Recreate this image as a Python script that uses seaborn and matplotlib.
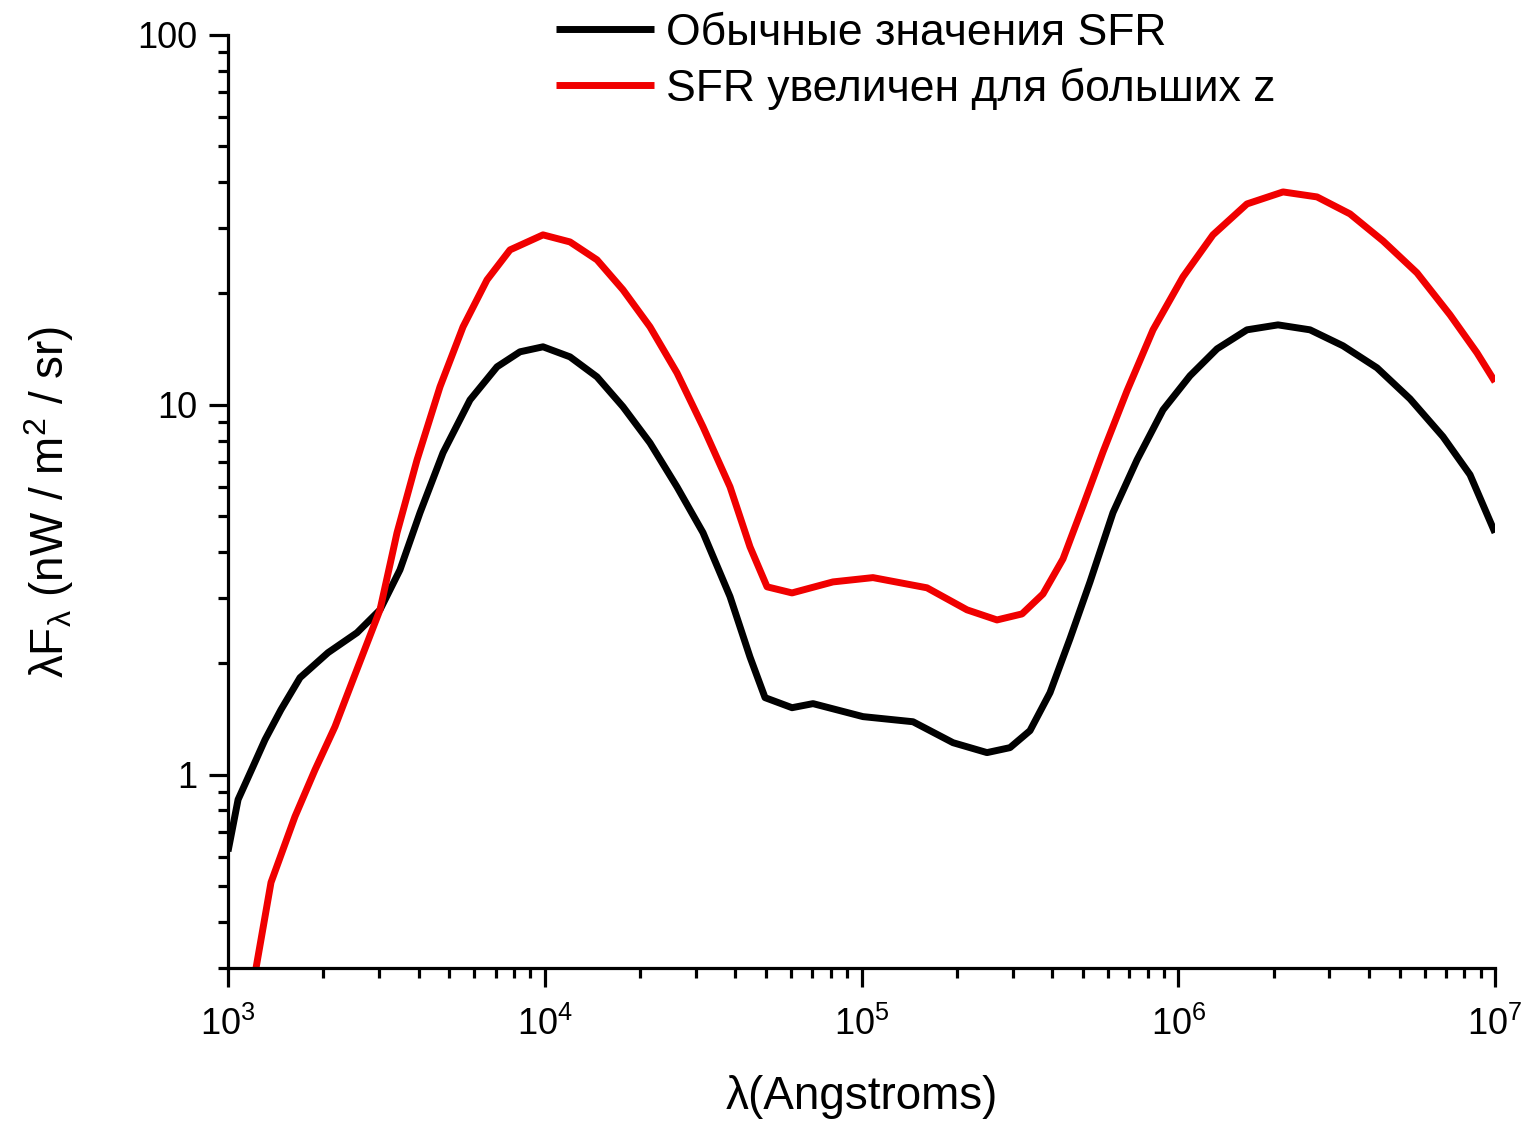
import numpy as np
import pandas as pd
import matplotlib
matplotlib.use("Agg")
import matplotlib.pyplot as plt
import matplotlib.ticker as mticker
import seaborn as sns

# ---- data ----
x_normal = [1000, 1076, 1199, 1309, 1470, 1688, 2069, 2555, 3019, 3491, 4039,
            4774, 5808, 7069, 8353, 9874, 12015, 14622, 17660, 21490, 26150,
            31600, 38450, 44460, 49600, 60350, 70300, 101100, 145400, 194500,
            249000, 294300, 340400, 393700, 455100, 526500, 622300, 741200,
            895100, 1089000, 1326000, 1648000, 2065000, 2606000, 3312000,
            4241000, 5391000, 6852000, 8340000, 10000000]
y_normal = [0.62, 0.856, 1.051, 1.243, 1.499, 1.829, 2.137, 2.42, 2.79, 3.58, 5.11,
            7.42, 10.31, 12.67, 13.91, 14.35, 13.48, 11.90, 9.88, 7.89, 6.00,
            4.51, 3.03, 2.08, 1.615, 1.517, 1.556, 1.435, 1.39, 1.22,
            1.147, 1.183, 1.315, 1.666, 2.33, 3.32, 5.11, 7.10,
            9.69, 11.98, 14.17, 15.95, 16.45, 15.95, 14.44,
            12.59, 10.38, 8.20, 6.47, 4.51]

x_high = [1226, 1367, 1627, 1882, 2177, 2481, 3019, 3417, 3952, 4670, 5521,
          6572, 7768, 9874, 12015, 14622, 17660, 21490, 26150, 31600, 38450,
          44460, 50330, 60350, 81280, 108700, 161000, 215300, 267800, 321200,
          374100, 432600, 500500, 578800, 689000, 832500, 1035000, 1287000,
          1648000, 2142000, 2742000, 3485000, 4430000, 5672000, 7211000,
          8773000, 10000000]
y_high = [0.30, 0.511, 0.770, 1.03, 1.349, 1.806, 2.79, 4.51, 7.10, 11.19, 16.25,
          21.77, 26.24, 28.81, 27.57, 24.66, 20.46, 16.25, 12.20, 8.72, 6.00,
          4.13, 3.22, 3.10, 3.32, 3.41, 3.20, 2.79, 2.62, 2.72,
          3.08, 3.83, 5.33, 7.46, 10.91, 15.95, 22.18, 28.81,
          34.93, 37.64, 36.49, 32.83, 27.75, 22.74, 17.51,
          13.82, 11.54]

label_normal = "Обычные значения SFR"
label_high = "SFR увеличен для больших z"
xlabel = "λ(Angstroms)"
ylabel = r"λF$_{\mathrm{λ}}$ (nW / m$^{2}$ / sr)"
ytick_vals = [1, 10, 100]
ytick_labels = ["1", "10", "100"]

# ---- style ----
sns.set_style("ticks")
plt.rcParams["font.family"] = ["Liberation Sans", "DejaVu Sans"]
plt.rcParams["mathtext.fontset"] = "custom"
plt.rcParams["mathtext.rm"] = "Liberation Sans"
plt.rcParams["mathtext.it"] = "Liberation Sans:italic"
plt.rcParams["mathtext.bf"] = "Liberation Sans:bold"
plt.rcParams["mathtext.default"] = "regular"
plt.rcParams["text.color"] = "black"
plt.rcParams["axes.labelcolor"] = "black"

fig = plt.figure(figsize=(15.23, 11.21), dpi=100)
ax = fig.add_axes([228 / 1523, 1 - 968 / 1121, (1495 - 228) / 1523, (968 - 35) / 1121])

lw = 5.0
line_kw = dict(solid_joinstyle="round", solid_capstyle="butt")
sns.lineplot(x=x_normal, y=y_normal, ax=ax, color="black", linewidth=lw,
             label=label_normal, sort=False, **line_kw)
sns.lineplot(x=x_high, y=y_high, ax=ax, color="#f00000", linewidth=lw,
             label=label_high, sort=False, **line_kw)

ax.set_xscale("log")
ax.set_yscale("log")
ax.set_xlim(1e3, 1e7)
ax.set_ylim(0.3, 100)

# spines
sns.despine(ax=ax)
for sp in ["left", "bottom"]:
    ax.spines[sp].set_linewidth(2.3)
    ax.spines[sp].set_color("black")

# ticks
ax.xaxis.set_major_locator(mticker.LogLocator(base=10, numticks=10))
ax.xaxis.set_minor_locator(mticker.LogLocator(base=10, subs=np.arange(2, 10), numticks=20))
ax.xaxis.set_minor_formatter(mticker.NullFormatter())
ax.yaxis.set_major_locator(mticker.FixedLocator(ytick_vals))
ax.yaxis.set_major_formatter(mticker.FixedFormatter(ytick_labels))
ax.yaxis.set_minor_locator(mticker.LogLocator(base=10, subs=np.arange(2, 10), numticks=20))
ax.yaxis.set_minor_formatter(mticker.NullFormatter())

ax.tick_params(which="major", direction="out", length=14, width=2.3,
               labelsize=26, color="black", labelcolor="black")
ax.tick_params(which="minor", direction="out", length=7.5, width=2.3, color="black")
ax.tick_params(axis="y", which="major", pad=8)
ax.tick_params(axis="x", which="major", pad=14)

ax.set_xlabel(xlabel, fontsize=33, labelpad=23)
ax.set_ylabel(ylabel, fontsize=33, labelpad=44)

# legend
ax.legend(loc="upper left", bbox_to_anchor=(556 / 1523, 1 - 13 / 1121),
          bbox_transform=fig.transFigure, frameon=False, fontsize=32,
          handlelength=2.2, handletextpad=0.28, labelspacing=0.3,
          borderpad=0, borderaxespad=0)

fig.savefig("out.png", dpi=100, facecolor="white")
